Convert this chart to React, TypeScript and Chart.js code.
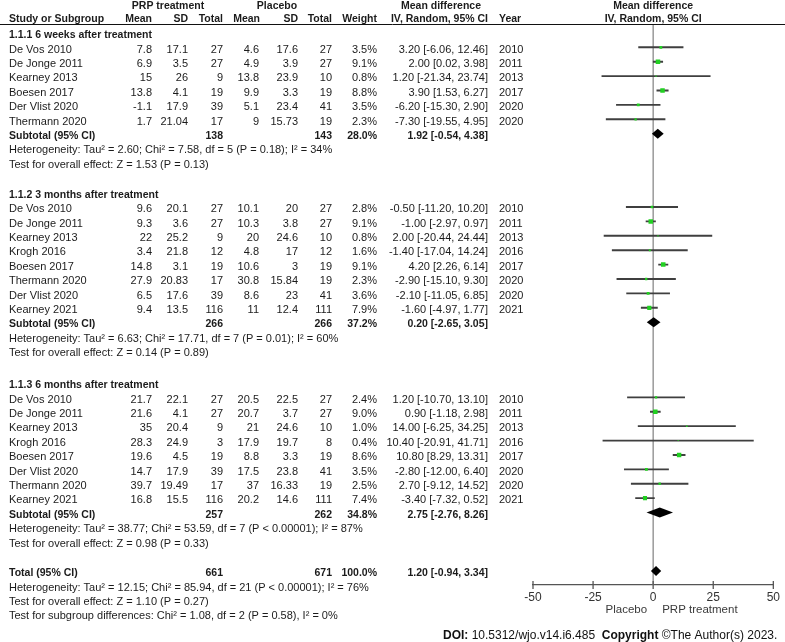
import React, { useEffect, useRef } from 'react';
import { Chart, registerables } from 'chart.js';

Chart.register(...registerables);

// ---------------- data ----------------
const groupTitles = [
  '1.1.1 6 weeks after treatment',
  '1.1.2 3 months after treatment',
  '1.1.3 6 months after treatment',
];

const studyGroup = [0, 0, 0, 0, 0, 0, 1, 1, 1, 1, 1, 1, 1, 1, 2, 2, 2, 2, 2, 2, 2, 2];
const studyNames = [
  'De Vos 2010', 'De Jonge 2011', 'Kearney 2013', 'Boesen 2017', 'Der Vlist 2020', 'Thermann 2020',
  'De Vos 2010', 'De Jonge 2011', 'Kearney 2013', 'Krogh 2016', 'Boesen 2017', 'Thermann 2020', 'Der Vlist 2020', 'Kearney 2021',
  'De Vos 2010', 'De Jonge 2011', 'Kearney 2013', 'Krogh 2016', 'Boesen 2017', 'Der Vlist 2020', 'Thermann 2020', 'Kearney 2021',
];
const prpMean = [7.8, 6.9, 15, 13.8, -1.1, 1.7, 9.6, 9.3, 22, 3.4, 14.8, 27.9, 6.5, 9.4, 21.7, 21.6, 35, 28.3, 19.6, 14.7, 39.7, 16.8];
const prpSD = [17.1, 3.5, 26, 4.1, 17.9, 21.04, 20.1, 3.6, 25.2, 21.8, 3.1, 20.83, 17.6, 13.5, 22.1, 4.1, 20.4, 24.9, 4.5, 17.9, 19.49, 15.5];
const prpTotal = [27, 27, 9, 19, 39, 17, 27, 27, 9, 12, 19, 17, 39, 116, 27, 27, 9, 3, 19, 39, 17, 116];
const plMean = [4.6, 4.9, 13.8, 9.9, 5.1, 9, 10.1, 10.3, 20, 4.8, 10.6, 30.8, 8.6, 11, 20.5, 20.7, 21, 17.9, 8.8, 17.5, 37, 20.2];
const plSD = [17.6, 3.9, 23.9, 3.3, 23.4, 15.73, 20, 3.8, 24.6, 17, 3, 15.84, 23, 12.4, 22.5, 3.7, 24.6, 19.7, 3.3, 23.8, 16.33, 14.6];
const plTotal = [27, 27, 10, 19, 41, 19, 27, 27, 10, 12, 19, 19, 41, 111, 27, 27, 10, 8, 19, 41, 19, 111];
const weights = [3.5, 9.1, 0.8, 8.8, 3.5, 2.3, 2.8, 9.1, 0.8, 1.6, 9.1, 2.3, 3.6, 7.9, 2.4, 9.0, 1.0, 0.4, 8.6, 3.5, 2.5, 7.4];
const meanDiff = [3.2, 2.0, 1.2, 3.9, -6.2, -7.3, -0.5, -1.0, 2.0, -1.4, 4.2, -2.9, -2.1, -1.6, 1.2, 0.9, 14.0, 10.4, 10.8, -2.8, 2.7, -3.4];
const ciLow = [-6.06, 0.02, -21.34, 1.53, -15.3, -19.55, -11.2, -2.97, -20.44, -17.04, 2.26, -15.1, -11.05, -4.97, -10.7, -1.18, -6.25, -20.91, 8.29, -12.0, -9.12, -7.32];
const ciHigh = [12.46, 3.98, 23.74, 6.27, 2.9, 4.95, 10.2, 0.97, 24.44, 14.24, 6.14, 9.3, 6.85, 1.77, 13.1, 2.98, 34.25, 41.71, 13.31, 6.4, 14.52, 0.52];
const years = [2010, 2011, 2013, 2017, 2020, 2020, 2010, 2011, 2013, 2016, 2017, 2020, 2020, 2021, 2010, 2011, 2013, 2016, 2017, 2020, 2020, 2021];

const subPrpTotal = [138, 266, 257];
const subPlTotal = [143, 266, 262];
const subWeight = [28.0, 37.2, 34.8];
const subMD = [1.92, 0.2, 2.75];
const subLow = [-0.54, -2.65, -2.76];
const subHigh = [4.38, 3.05, 8.26];
const subTau2 = ['2.60', '6.63', '38.77'];
const subChi2 = ['7.58', '17.71', '53.59'];
const subDf = [5, 7, 7];
const subHetP = ['= 0.18', '= 0.01', '< 0.00001'];
const subI2 = [34, 60, 87];
const subZ = ['1.53', '0.14', '0.98'];
const subZP = ['0.13', '0.89', '0.33'];

const totalPrp = 661;
const totalPl = 671;
const totalWeight = 100.0;
const totalMD = 1.2;
const totalLow = -0.94;
const totalHigh = 3.34;
const totalHet = 'Heterogeneity: Tau\u00B2 = 12.15; Chi\u00B2 = 85.94, df = 21 (P < 0.00001); I\u00B2 = 76%';
const totalTest = 'Test for overall effect: Z = 1.10 (P = 0.27)';
const subgroupTest = 'Test for subgroup differences: Chi\u00B2 = 1.08, df = 2 (P = 0.58), I\u00B2 = 0%';

const xTickValues = [-50, -25, 0, 25, 50];

// ---------------- layout ----------------
const FONT = '"Liberation Sans", Arial, sans-serif';
const REG = 11;
const BOLD = 10.5;
const TEXT = '#1b1b1b';
const COL = { name: 9, prpMean: 152, prpSD: 188, prpTotal: 223, plMean: 259, plSD: 298, plTotal: 332, weight: 377, md: 488, year: 499 };
const ROW_H = 14.4;
const ROW0 = 32.9;
const TEXT_DY = 2.2;
const AXIS_Y = 585;
const GAPS = [2.09, 2.22, 2.05];

type Row = { slot: number; kind: string; idx: number };
const rows: Row[] = [];
const studySlot: number[] = [];
(() => {
  let s = 0;
  for (let g = 0; g < 3; g++) {
    rows.push({ slot: s, kind: 'group', idx: g }); s++;
    studyGroup.forEach((sg, i) => {
      if (sg === g) { rows.push({ slot: s, kind: 'study', idx: i }); studySlot[i] = s; s++; }
    });
    rows.push({ slot: s, kind: 'subtotal', idx: g }); s++;
    rows.push({ slot: s, kind: 'het', idx: g }); s++;
    rows.push({ slot: s, kind: 'z', idx: g });
    s += GAPS[g];
  }
  rows.push({ slot: s, kind: 'total', idx: 0 }); s++;
  rows.push({ slot: s, kind: 'totalHet', idx: 0 }); s++;
  rows.push({ slot: s, kind: 'totalZ', idx: 0 }); s++;
  rows.push({ slot: s, kind: 'subgroup', idx: 0 });
})();

const fmtCI = (m: number, l: number, h: number) => `${m.toFixed(2)} [${l.toFixed(2)}, ${h.toFixed(2)}]`;

function txt(ctx: CanvasRenderingContext2D, t: string, x: number, y: number, align: CanvasTextAlign, bold = false, color = TEXT, size?: number) {
  ctx.font = `${bold ? 'bold ' : ''}${size ?? (bold ? BOLD : REG)}px ${FONT}`;
  ctx.textAlign = align;
  ctx.textBaseline = 'middle';
  ctx.fillStyle = color;
  ctx.fillText(t, x, y);
}

const forestPlugin = {
  id: 'forest',
  beforeDatasetsDraw(chart: any) {
    const { ctx, scales: { x }, chartArea } = chart;
    ctx.save();
    ctx.strokeStyle = '#111';
    ctx.lineWidth = 1;
    ctx.beginPath();
    ctx.moveTo(0, 24.5);
    ctx.lineTo(chart.width, 24.5);
    ctx.stroke();
    const x0 = x.getPixelForValue(0);
    ctx.strokeStyle = '#8a8a8a';
    ctx.lineWidth = 1.3;
    ctx.beginPath();
    ctx.moveTo(x0, 25);
    ctx.lineTo(x0, chartArea.bottom);
    ctx.stroke();
    ctx.restore();
  },
  afterDatasetsDraw(chart: any) {
    const { ctx, scales: { x, y } } = chart;
    ctx.save();
    ctx.fillStyle = '#000';
    const diamond = (m: number, l: number, h: number, slot: number) => {
      const py = y.getPixelForValue(slot);
      ctx.beginPath();
      ctx.moveTo(x.getPixelForValue(l), py);
      ctx.lineTo(x.getPixelForValue(m), py - 5);
      ctx.lineTo(x.getPixelForValue(h), py);
      ctx.lineTo(x.getPixelForValue(m), py + 5);
      ctx.closePath();
      ctx.fill();
    };
    rows.forEach((r) => {
      if (r.kind === 'subtotal') diamond(subMD[r.idx], subLow[r.idx], subHigh[r.idx], r.slot);
      if (r.kind === 'total') diamond(totalMD, totalLow, totalHigh, r.slot);
    });
    ctx.restore();
  },
  afterDraw(chart: any) {
    const { ctx, scales: { x, y }, chartArea } = chart;
    ctx.save();
    ctx.strokeStyle = '#555';
    ctx.lineWidth = 1.3;
    x.ticks.forEach((t: any) => {
      const px = x.getPixelForValue(t.value);
      ctx.beginPath();
      ctx.moveTo(px, chartArea.bottom - 4);
      ctx.lineTo(px, chartArea.bottom + 4);
      ctx.stroke();
    });

    txt(ctx, 'PRP treatment', 168, 6, 'center', true);
    txt(ctx, 'Placebo', 277, 6, 'center', true);
    txt(ctx, 'Mean difference', 441, 6, 'center', true);
    txt(ctx, 'Mean difference', x.getPixelForValue(0), 6, 'center', true);
    const h2 = 19.5;
    txt(ctx, 'Study or Subgroup', COL.name, h2, 'left', true);
    txt(ctx, 'Mean', COL.prpMean, h2, 'right', true);
    txt(ctx, 'SD', COL.prpSD, h2, 'right', true);
    txt(ctx, 'Total', COL.prpTotal, h2, 'right', true);
    txt(ctx, 'Mean', COL.plMean + 1, h2, 'right', true);
    txt(ctx, 'SD', COL.plSD, h2, 'right', true);
    txt(ctx, 'Total', COL.plTotal, h2, 'right', true);
    txt(ctx, 'Weight', COL.weight, h2, 'right', true);
    txt(ctx, 'IV, Random, 95% CI', COL.md, h2, 'right', true);
    txt(ctx, 'Year', COL.year, h2, 'left', true);
    txt(ctx, 'IV, Random, 95% CI', x.getPixelForValue(0), h2, 'center', true);

    rows.forEach((r) => {
      const py = y.getPixelForValue(r.slot) + TEXT_DY;
      const i = r.idx;
      switch (r.kind) {
        case 'group':
          txt(ctx, groupTitles[i], COL.name, py, 'left', true);
          break;
        case 'study':
          txt(ctx, studyNames[i], COL.name, py, 'left');
          txt(ctx, String(prpMean[i]), COL.prpMean, py, 'right');
          txt(ctx, String(prpSD[i]), COL.prpSD, py, 'right');
          txt(ctx, String(prpTotal[i]), COL.prpTotal, py, 'right');
          txt(ctx, String(plMean[i]), COL.plMean, py, 'right');
          txt(ctx, String(plSD[i]), COL.plSD, py, 'right');
          txt(ctx, String(plTotal[i]), COL.plTotal, py, 'right');
          txt(ctx, `${weights[i].toFixed(1)}%`, COL.weight, py, 'right');
          txt(ctx, fmtCI(meanDiff[i], ciLow[i], ciHigh[i]), COL.md, py, 'right');
          txt(ctx, String(years[i]), COL.year, py, 'left');
          break;
        case 'subtotal':
          txt(ctx, 'Subtotal (95% CI)', COL.name, py, 'left', true);
          txt(ctx, String(subPrpTotal[i]), COL.prpTotal, py, 'right', true);
          txt(ctx, String(subPlTotal[i]), COL.plTotal, py, 'right', true);
          txt(ctx, `${subWeight[i].toFixed(1)}%`, COL.weight, py, 'right', true);
          txt(ctx, fmtCI(subMD[i], subLow[i], subHigh[i]), COL.md, py, 'right', true);
          break;
        case 'het':
          txt(ctx, `Heterogeneity: Tau\u00B2 = ${subTau2[i]}; Chi\u00B2 = ${subChi2[i]}, df = ${subDf[i]} (P ${subHetP[i]}); I\u00B2 = ${subI2[i]}%`, COL.name, py, 'left');
          break;
        case 'z':
          txt(ctx, `Test for overall effect: Z = ${subZ[i]} (P = ${subZP[i]})`, COL.name, py, 'left');
          break;
        case 'total':
          txt(ctx, 'Total (95% CI)', COL.name, py, 'left', true);
          txt(ctx, String(totalPrp), COL.prpTotal, py, 'right', true);
          txt(ctx, String(totalPl), COL.plTotal, py, 'right', true);
          txt(ctx, `${totalWeight.toFixed(1)}%`, COL.weight, py, 'right', true);
          txt(ctx, fmtCI(totalMD, totalLow, totalHigh), COL.md, py, 'right', true);
          break;
        case 'totalHet':
          txt(ctx, totalHet, COL.name, py, 'left');
          break;
        case 'totalZ':
          txt(ctx, totalTest, COL.name, py, 'left');
          break;
        case 'subgroup':
          txt(ctx, subgroupTest, COL.name, py, 'left');
          break;
      }
    });

    const x0 = x.getPixelForValue(0);
    txt(ctx, 'Placebo', x0 - 6, 610, 'right', false, '#3a3a3a', 11.5);
    txt(ctx, 'PRP treatment', x0 + 9, 610, 'left', false, '#3a3a3a', 11.5);

    const parts: [string, boolean][] = [
      ['DOI:', true], [' 10.5312/wjo.v14.i6.485  ', false], ['Copyright', true], [' \u00A9The Author(s) 2023.', false],
    ];
    let cx = 443;
    parts.forEach(([t, b]) => {
      txt(ctx, t, cx, 636, 'left', b, '#111', 12);
      cx += ctx.measureText(t).width;
    });
    ctx.restore();
  },
};

export default function App() {
  const ref = useRef<HTMLCanvasElement>(null);
  useEffect(() => {
    document.body.style.margin = '0';
    const chart = new Chart(ref.current!, {
      type: 'bar',
      data: {
        datasets: [
          {
            type: 'bar',
            indexAxis: 'y',
            order: 2,
            data: studyNames.map((_, i) => ({ x: [ciLow[i], ciHigh[i]], y: studySlot[i] })),
            backgroundColor: '#3f3f3f',
            borderWidth: 0,
            barThickness: 1.2,
            grouped: false,
          } as any,
          {
            type: 'scatter',
            order: 1,
            data: studyNames.map((_, i) => ({ x: meanDiff[i], y: studySlot[i] })),
            pointStyle: 'rect',
            pointRadius: (c: any) => (1.5 * Math.sqrt(weights[c.dataIndex])) / 1.414,
            pointBackgroundColor: '#22d022',
            pointBorderWidth: 0,
            pointHoverRadius: 0,
          } as any,
        ],
      },
      options: {
        responsive: false,
        animation: false,
        events: [],
        layout: { autoPadding: false, padding: { left: 533, right: 10, top: 0, bottom: 27 } },
        plugins: { legend: { display: false }, tooltip: { enabled: false } },
        scales: {
          x: {
            type: 'linear',
            position: 'bottom',
            offset: false,
            min: xTickValues[0],
            max: xTickValues[xTickValues.length - 1],
            afterBuildTicks: (s: any) => { s.ticks = xTickValues.map((v) => ({ value: v })); },
            afterFit: (s: any) => { s.height = 30; },
            ticks: { color: '#333', padding: 5, font: { family: FONT, size: 12 }, callback: (v: any) => String(v), maxRotation: 0 },
            grid: { display: false, drawTicks: false, offset: false },
            border: { display: true, color: '#555', width: 1.3 },
          },
          y: {
            type: 'linear',
            display: false,
            offset: false,
            reverse: true,
            min: -ROW0 / ROW_H,
            max: (AXIS_Y - ROW0) / ROW_H,
            grid: { offset: false },
          },
        },
      },
      plugins: [forestPlugin],
    } as any);
    return () => chart.destroy();
  }, []);
  return (
    <div style={{ width: 785, height: 642, background: '#fff' }}>
      <canvas ref={ref} width={785} height={642} style={{ display: 'block' }} />
    </div>
  );
}
